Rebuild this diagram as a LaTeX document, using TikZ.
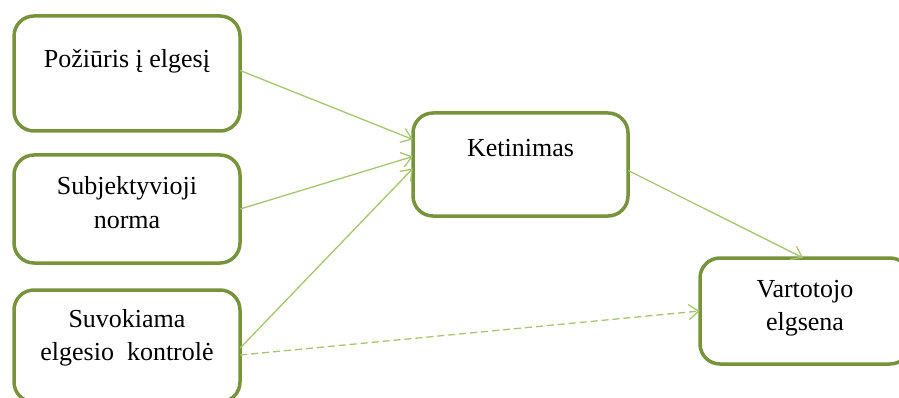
\documentclass[tikz,border=0pt]{standalone}
\usepackage{fontspec}
\setmainfont{Liberation Serif}
\usetikzlibrary{arrows.meta}
\definecolor{boxgreen}{HTML}{77933C}
\definecolor{linkgreen}{HTML}{A5C66E}
\begin{document}
\begin{tikzpicture}[x=1pt,y=-1pt,
  box/.style={draw=boxgreen,line width=3.5pt,rounded corners=20pt,fill=white},
  lbl/.style={anchor=base,inner sep=0pt,font=\fontsize{26}{32}\selectfont,text=black},
  link/.style={draw=linkgreen,line width=1.3pt,-{Straight Barb[length=10pt,width=15pt,line width=1.3pt]}},
  dashlink/.style={link,dash pattern=on 7pt off 4pt}]
\useasboundingbox (0,0) rectangle (899,398);
% boxes
\path[box] (14,16) rectangle (240,131);
\node[inner sep=0pt,minimum width=226pt,minimum height=115pt] (att) at (127,73.5) {};
\path[box] (14,155) rectangle (240,263);
\node[inner sep=0pt,minimum width=226pt,minimum height=108pt] (norm) at (127,209) {};
\path[box] (14,290) rectangle (240,402);
\node[inner sep=0pt,minimum width=226pt,minimum height=112pt] (ctrl) at (127,346) {};
\path[box] (413,113) rectangle (628,216);
\node[inner sep=0pt,minimum width=215pt,minimum height=103pt] (int) at (520.5,164.5) {};
\path[box] (700,258) rectangle (910,364);
\node[inner sep=0pt,minimum width=210pt,minimum height=106pt] (beh) at (805,311) {};
% labels
\node[lbl] (attT) at (127,68) {Požiūris į elgesį};
\node[lbl] (normT1) at (127,194) {Subjektyvioji};
\node[lbl] (normT2) at (127,228) {norma};
\node[lbl] (ctrlT1) at (127,327) {Suvokiama};
\node[lbl] (ctrlT2) at (127,360) {elgesio\ \ kontrolė};
\node[lbl] (intT) at (520.5,157) {Ketinimas};
\node[lbl] (behT1) at (805,297) {Vartotojo};
\node[lbl] (behT2) at (805,330) {elgsena};
% connectors
\draw[link] ([yshift=3pt]att.east) -- ([yshift=25pt]int.west);
\draw[link] (norm.east) -- ([yshift=8pt]int.west);
\draw[link] ([yshift=-2pt]ctrl.east) -- ([yshift=-4pt]int.west);
\draw[link] ([yshift=-6pt]int.east) -- ([xshift=-2pt]beh.north);
\draw[dashlink] ([yshift=-9pt]ctrl.east) -- (beh.west);
\end{tikzpicture}
\end{document}
